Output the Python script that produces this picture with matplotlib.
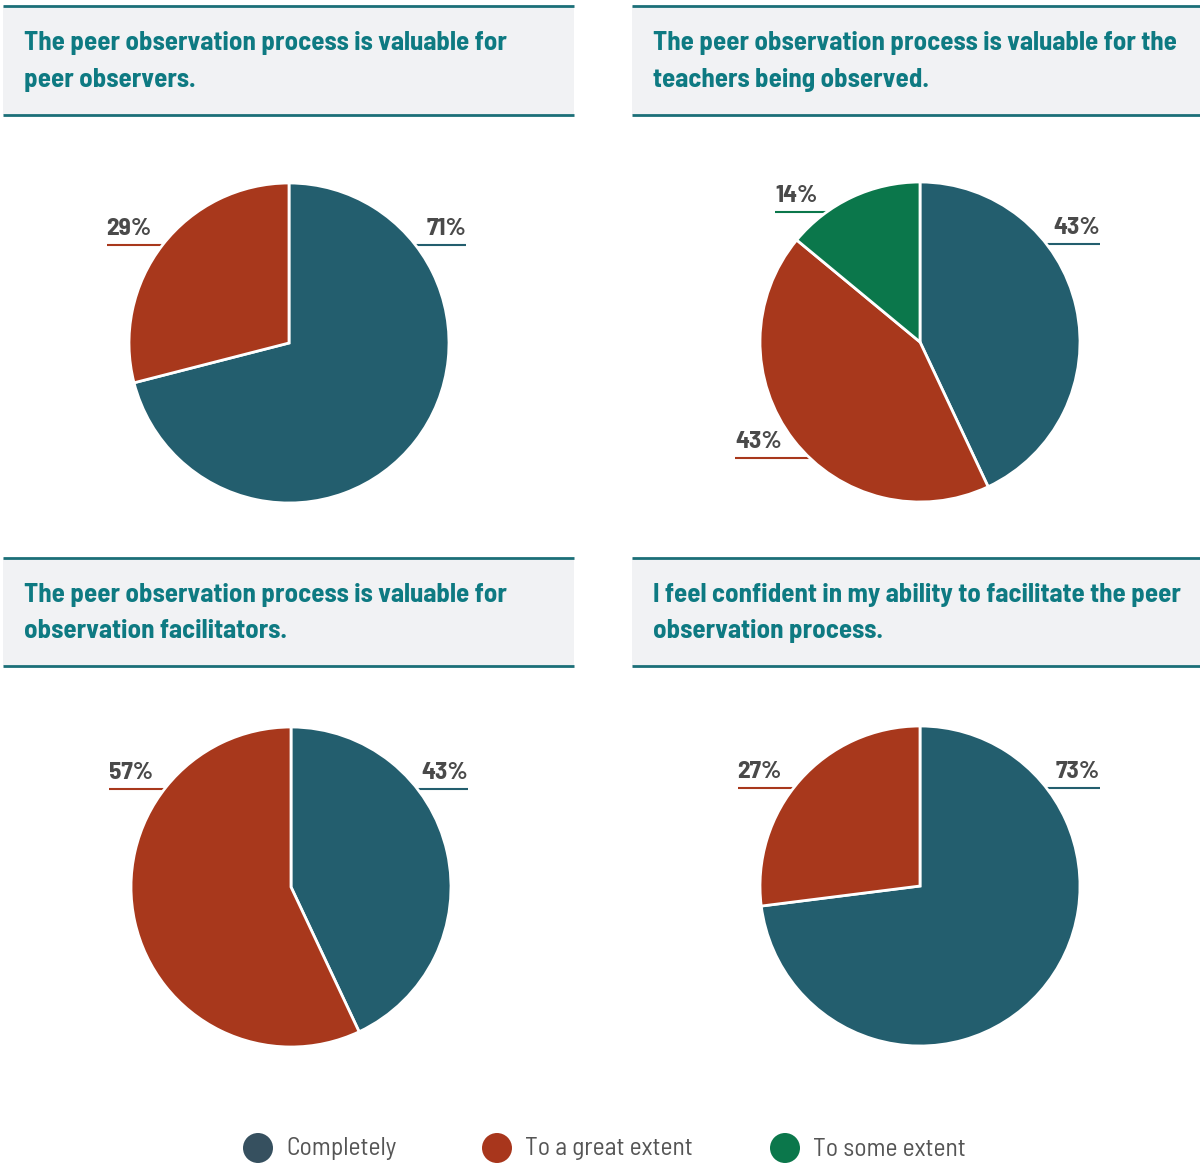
import matplotlib.pyplot as plt
from matplotlib import font_manager
from matplotlib.font_manager import FontProperties
from matplotlib.textpath import TextPath
from matplotlib.patches import Rectangle, Circle

# survey results, one entry per statement
questions = [
    "The peer observation process is valuable for\npeer observers.",
    "The peer observation process is valuable for the\nteachers being observed.",
    "The peer observation process is valuable for\nobservation facilitators.",
    "I feel confident in my ability to facilitate the peer\nobservation process.",
]
categories = ["Completely", "To a great extent", "To some extent"]
completely = [71, 43, 43, 73]
great_extent = [29, 43, 57, 27]
some_extent = [0, 14, 0, 0]

# styling
pie_colors = ["#235e6e", "#a8381c", "#0b774b"]
legend_colors = ["#36505f", "#a8361c", "#0b774b"]
title_color = "#0e7a82"
rule_color = "#1b6f78"
box_color = "#f1f2f4"
label_color = "#4a4a4a"

W, H = 1200, 1164
R = 160

# panel layout in pixels: title box (x0, x1, y_top, y_bottom), pie centre
boxes = [(3, 574, 6, 115), (632, 1200, 6, 115), (3, 574, 558, 666), (632, 1200, 558, 666)]
centres = [(289, 343), (920, 342), (291, 887), (920, 886)]
# label leader per slice: (height on the circle, outer end of the line), in radii
leaders = [
    [(0.61, 1.106), (0.61, -1.14), None],
    [(0.61, 1.125), (-0.725, -1.156), (0.81, -0.906)],
    [(0.61, 1.106), (0.61, -1.14), None],
    [(0.61, 1.125), (0.61, -1.14), None],
]


def weight_of(f):
    w = f.weight
    if isinstance(w, str):
        w = font_manager.weight_dict.get(w, 400)
    return int(w)


def extent(text, fname):
    e = TextPath((0, 0), text, size=100, prop=FontProperties(fname=fname)).get_extents()
    return e.width, e.height


def size_for(text, fname, px):
    # point size that makes `text` px pixels wide at 100 dpi
    return px * 0.72 * 100 / extent(text, fname)[0]


# heading face: a narrow bold, picked by its width / cap height proportion
first_line = questions[0].split("\n")[0]
narrow = [f for f in font_manager.fontManager.ttflist
          if f.style == "normal" and "CJK" not in f.name
          and f.fname.lower().endswith((".ttf", ".otf"))
          and any(s in f.name or s in f.fname for s in ("Condensed", "Narrow"))]
bold_pool = [f for f in narrow if 600 <= weight_of(f) <= 700] or narrow

best, best_err = None, None
for f in bold_pool[:40]:
    try:
        ratio = extent(first_line, f.fname)[0] / extent("T", f.fname)[1]
    except Exception:
        continue
    err = abs(ratio - 25.7) + 0.02 * abs(weight_of(f) - 700)
    if best is None or err < best_err:
        best, best_err = f, err

if best is not None:
    bold_file = best.fname
    same = [f for f in narrow if f.name == best.name] or narrow
    reg_file = min(same, key=lambda f: abs(weight_of(f) - 400)).fname
else:
    bold_file = font_manager.findfont(FontProperties(family="DejaVu Sans", weight="bold"))
    reg_file = font_manager.findfont(FontProperties(family="DejaVu Sans"))

title_size = size_for(first_line, bold_file, 481)
label_size = size_for("29%", bold_file, 43)
legend_size = size_for("Completely", reg_file, 108)

fig = plt.figure(figsize=(12, 11.64), dpi=100)
ax = fig.add_axes([0, 0, 1, 1])

for i, q in enumerate(questions):
    x0, x1, yt, yb = boxes[i]
    ax.add_patch(Rectangle((x0, H - yb), x1 - x0, yb - yt, facecolor=box_color,
                           edgecolor="none", zorder=0))
    ax.plot([x0, x1], [H - yt, H - yt], color=rule_color, lw=2, zorder=1,
            solid_capstyle="butt")
    ax.plot([x0, x1], [H - yb, H - yb], color=rule_color, lw=2, zorder=1,
            solid_capstyle="butt")
    ax.text(x0 + 21, H - (yt + yb) / 2 - 1, q, color=title_color,
            fontproperties=FontProperties(fname=bold_file, size=title_size),
            va="center", ha="left", linespacing=1.65)

    vals = [completely[i], great_extent[i], some_extent[i]]
    keep = [k for k in range(3) if vals[k] > 0]
    cx, cy = centres[i]
    wedges, _ = ax.pie([vals[k] for k in keep], colors=[pie_colors[k] for k in keep],
                       startangle=90, counterclock=False, center=(cx, H - cy),
                       radius=R, frame=True,
                       wedgeprops=dict(edgecolor="white", linewidth=2))
    for w in wedges:
        w.set_zorder(3)

    for k in keep:
        ly, lx = leaders[i][k]
        inner = (1 - ly ** 2) ** 0.5 * 0.8 * (1 if lx > 0 else -1)
        yline = H - cy + ly * R
        ax.plot([cx + inner * R, cx + lx * R], [yline, yline], color=pie_colors[k],
                lw=1.5, zorder=2, solid_capstyle="butt")
        ax.text(cx + lx * R, yline + 5, f"{vals[k]}%", color=label_color,
                fontproperties=FontProperties(fname=bold_file, size=label_size),
                va="bottom", ha="right" if lx > 0 else "left")

# legend row along the bottom
legend_x = [258, 497, 785]
for x, name, col in zip(legend_x, categories, legend_colors):
    ax.add_patch(Circle((x, H - 1148), 15, facecolor=col, edgecolor="none"))
    ax.text(x + 28, H - 1149, name, color="#555555",
            fontproperties=FontProperties(fname=reg_file, size=legend_size),
            va="center", ha="left")

ax.set_xlim(0, W)
ax.set_ylim(0, H)
ax.set_aspect("auto")
ax.axis("off")

fig.savefig("out.png", dpi=100)
